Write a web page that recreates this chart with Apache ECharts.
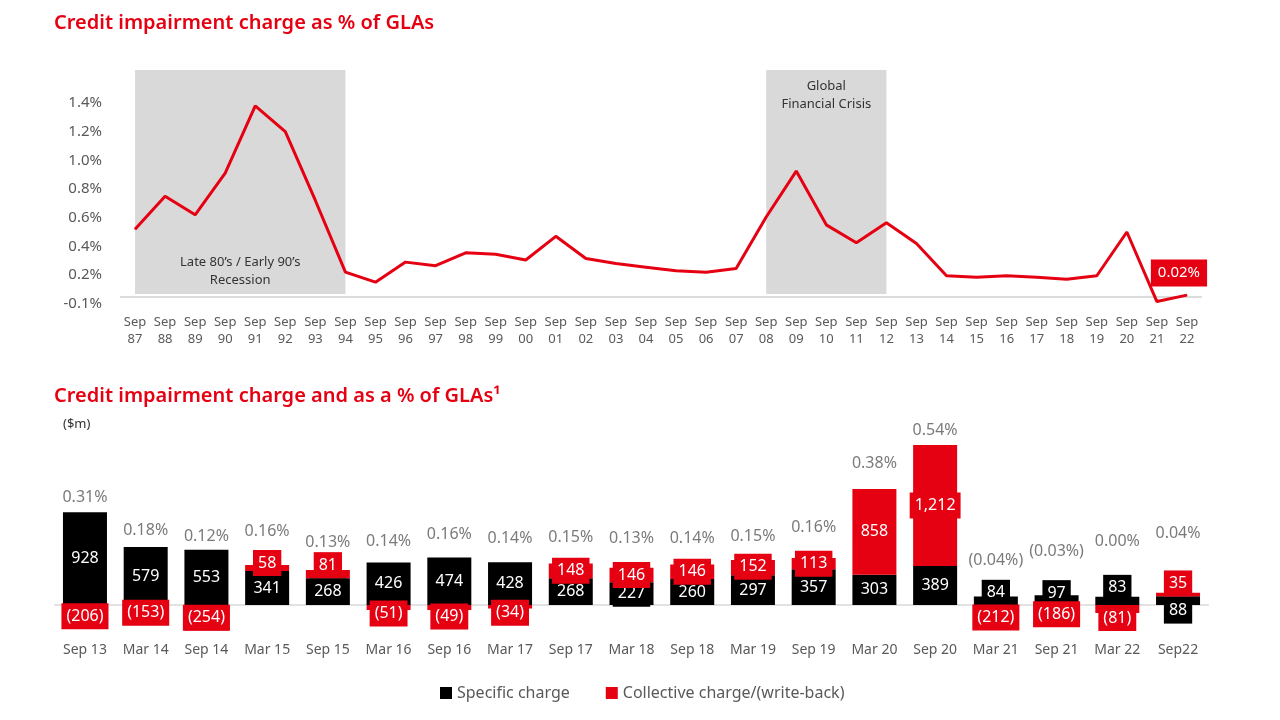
<!DOCTYPE html>
<html>
<head>
<meta charset="utf-8">
<script src="https://cdn.jsdelivr.net/npm/echarts@6/dist/echarts.min.js"></script>
<style>
html,body{margin:0;padding:0;background:#fff;}
#c{width:1280px;height:720px;}
</style>
</head>
<body>
<div id="c"></div>
<script>
// ---------- DATA ----------
const topYears = ['87','88','89','90','91','92','93','94','95','96','97','98','99','00','01','02','03','04','05','06','07','08','09','10','11','12','13','14','15','16','17','18','19','20','21','22'];
const topValues = [0.52,0.75,0.62,0.91,1.38,1.20,0.72,0.22,0.15,0.29,0.265,0.355,0.345,0.305,0.47,0.315,0.28,0.255,0.23,0.22,0.245,0.605,0.925,0.55,0.425,0.565,0.42,0.195,0.185,0.195,0.185,0.17,0.195,0.50,0.015,0.06];
const topTickLabels = ['-0.1%','0.2%','0.4%','0.6%','0.8%','1.0%','1.2%','1.4%'];
const lastLabel = '0.02%';
const recessionText = 'Late 80\u2019s / Early 90\u2019s\nRecession';
const gfcText = 'Global\nFinancial Crisis';

const botCategories = ['Sep 13','Mar 14','Sep 14','Mar 15','Sep 15','Mar 16','Sep 16','Mar 17','Sep 17','Mar 18','Sep 18','Mar 19','Sep 19','Mar 20','Sep 20','Mar 21','Sep 21','Mar 22','Sep22'];
const specificCharge = [928,579,553,341,268,426,474,428,268,227,260,297,357,303,389,84,97,83,88];
const collectiveCharge = [-206,-153,-254,58,81,-51,-49,-34,148,146,146,152,113,858,1212,-212,-186,-81,35];
const pctOfGLAs = [0.31,0.18,0.12,0.16,0.13,0.14,0.16,0.14,0.15,0.13,0.14,0.15,0.16,0.38,0.54,-0.04,-0.03,0.00,0.04];

// ---------- STYLE (label nudges, px) ----------
const specLabelNudge = [0,0,0,0,0,0,0,0,0,0,0,0,0,0,0,-8,-7,-13,10];
const collLabelNudge = [1,0,0,-5,-9,6,9,6,0,0,0,-1,0,0,0,2,0,9,-11];
const pctLabelNudge = [-15,-17,-13,-34,-28,-21,-23,-24,-26,-29,-26,-24,-31,-25,-14,-36,-44,-55,-59];

const RED = '#e50012';
const GREY = '#595959';
const FONT = 'Noto Sans';

const topCats = topYears.map(y => 'Sep ' + y);
const fmtNum = v => {
  const s = Math.abs(v).toLocaleString('en-US');
  return v < 0 ? '(' + s + ')' : s;
};
const fmtPct = v => {
  const s = Math.abs(v).toFixed(2) + '%';
  return v < 0 ? '(' + s + ')' : s;
};

const boxLabel = (bg, nudge) => ({
  show: true, position: 'inside', color: '#fff', fontSize: 16, fontFamily: FONT,
  backgroundColor: bg, padding: [4, 5], lineHeight: 18, offset: [0, nudge],
  formatter: p => fmtNum(p.value)
});

const specData = specificCharge.map((v, i) => ({ value: v, label: boxLabel('#000', specLabelNudge[i]) }));
const collData = collectiveCharge.map((v, i) => ({ value: v, label: boxLabel(RED, collLabelNudge[i]) }));
const posTop = specificCharge.map((v, i) => Math.max(v, 0) + Math.max(collectiveCharge[i], 0));
const pctData = posTop.map((v, i) => ({ value: v, label: { offset: [0, pctLabelNudge[i]] } }));

const lineData = topValues.map((v, i) => i === topValues.length - 1 ? {
  value: v,
  label: { show: true, formatter: lastLabel, position: 'top', distance: 8, offset: [-8, 0],
    backgroundColor: RED, color: '#fff', padding: [6, 7], fontSize: 15, fontFamily: FONT }
} : v);

const chart = echarts.init(document.getElementById('c'), null, { renderer: 'canvas' });
chart.setOption({
  animation: false,
  textStyle: { fontFamily: FONT },
  title: [
    { text: 'Credit impairment charge as % of GLAs', left: 49, top: 8,
      textStyle: { color: RED, fontSize: 20, fontWeight: 600, fontFamily: FONT } },
    { text: 'Credit impairment charge and as a % of GLAs\u00b9', left: 49, top: 381,
      textStyle: { color: RED, fontSize: 20, fontWeight: 600, fontFamily: FONT } },
    { text: '($m)', left: 58, top: 413,
      textStyle: { color: '#333', fontSize: 13, fontWeight: 'normal', fontFamily: FONT } }
  ],
  legend: {
    data: ['Specific charge', 'Collective charge/(write-back)'],
    left: 435, top: 680, icon: 'rect', itemWidth: 12, itemHeight: 12, itemGap: 36,
    textStyle: { color: GREY, fontSize: 16, fontFamily: FONT }
  },
  grid: [
    { left: 120, right: 78, top: 70, bottom: 416.3 },
    { left: 54.6, right: 71.6, top: 435, bottom: 85 }
  ],
  xAxis: [
    { type: 'category', gridIndex: 0, data: topCats,
      axisLine: { show: false }, axisTick: { show: false },
      axisLabel: { color: GREY, fontSize: 13, lineHeight: 17, margin: 10, interval: 0,
        formatter: v => v.replace(' ', '\n') } },
    { type: 'category', gridIndex: 1, data: botCategories,
      axisLine: { show: true, onZero: true, lineStyle: { color: '#d9d9d9', width: 1.5 } },
      axisTick: { show: false },
      axisLabel: { color: GREY, fontSize: 14, margin: 8, interval: 0 } }
  ],
  yAxis: [
    { type: 'value', gridIndex: 0, min: 0, max: 1.63, interval: 0.2,
      splitLine: { show: false }, axisLine: { show: false }, axisTick: { show: false },
      axisLabel: { color: GREY, fontSize: 15, margin: 18, showMaxLabel: false,
        formatter: (v, idx) => topTickLabels[idx] || '' } },
    { type: 'value', gridIndex: 1, min: -300, max: 1700, show: false, splitLine: { show: false } }
  ],
  series: [
    { type: 'line', xAxisIndex: 0, yAxisIndex: 0, data: lineData,
      symbol: 'circle', symbolSize: 1, showSymbol: true,
      lineStyle: { color: RED, width: 3 }, itemStyle: { color: RED }, z: 5,
      markArea: { silent: true, itemStyle: { color: '#d9d9d9' },
        label: { color: '#333', fontSize: 13, lineHeight: 18, fontFamily: FONT },
        data: [
          [{ xAxis: 'Sep 87', yAxis: 0.068, label: { position: 'insideBottom', distance: 5, formatter: recessionText } },
           { xAxis: 'Sep 94', yAxis: 1.63 }],
          [{ xAxis: 'Sep 08', yAxis: 0.068, label: { position: 'insideTop', distance: 7, formatter: gfcText } },
           { xAxis: 'Sep 12', yAxis: 1.63 }]
        ] },
      markLine: { silent: true, symbol: 'none', label: { show: false },
        lineStyle: { color: '#dcdcdc', width: 2, type: 'solid' },
        data: [{ yAxis: 0.047 }] }
    },
    { name: 'Specific charge', type: 'bar', xAxisIndex: 1, yAxisIndex: 1, stack: 'c',
      barWidth: 44, data: specData, itemStyle: { color: '#000' } },
    { name: 'Collective charge/(write-back)', type: 'bar', xAxisIndex: 1, yAxisIndex: 1, stack: 'c',
      barWidth: 44, data: collData, itemStyle: { color: RED } },
    { type: 'scatter', xAxisIndex: 1, yAxisIndex: 1, data: pctData, symbolSize: 1,
      itemStyle: { color: 'rgba(0,0,0,0)' }, silent: true, z: 10,
      label: { show: true, position: 'inside', color: GREY, fontSize: 16, fontFamily: FONT,
        formatter: p => fmtPct(pctOfGLAs[p.dataIndex]) } }
  ]
});
</script>
</body>
</html>
